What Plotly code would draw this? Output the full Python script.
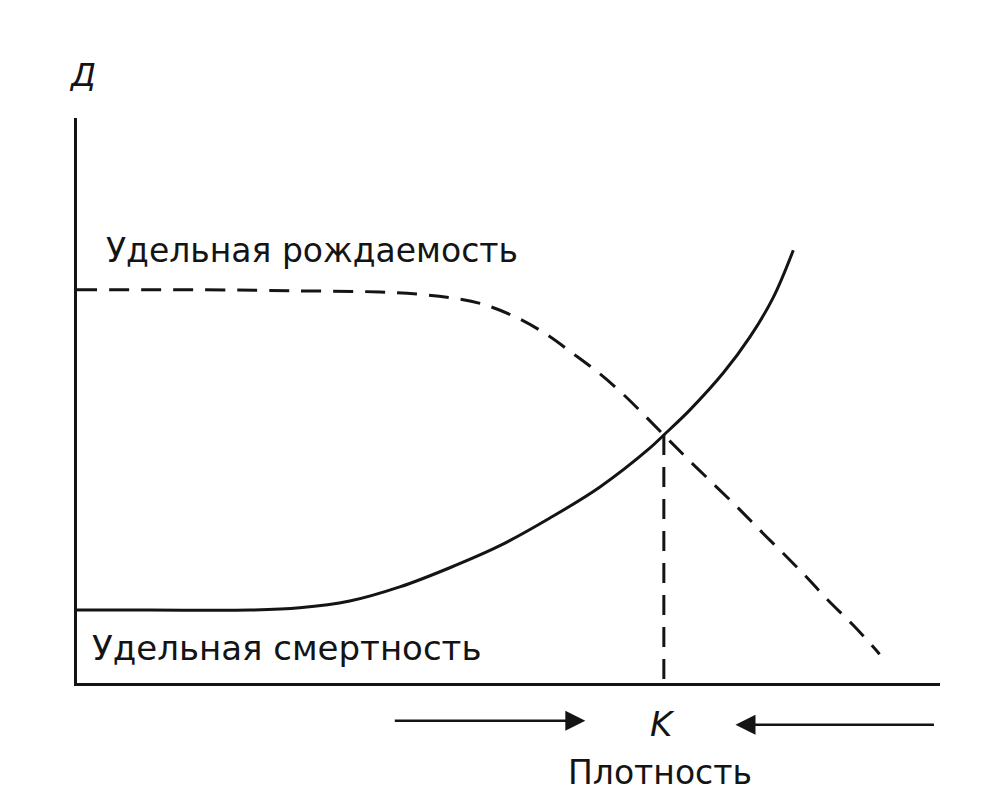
import plotly.graph_objects as go

# Density axis (arbitrary units 0-10) and rate axis (arbitrary units 0-10)
birth_density = [0.0, 1.43, 2.58, 3.51, 3.97, 4.32, 4.67, 5.08, 5.43, 5.74, 6.06, 6.35, 6.80,
                 7.10, 7.39, 7.66, 7.91, 8.18, 8.45, 8.70, 8.99, 9.22, 9.30]
birth_rate = [6.96, 6.96, 6.94, 6.92, 6.88, 6.82, 6.72, 6.48, 6.18, 5.84, 5.47, 5.08, 4.39,
              3.93, 3.50, 3.10, 2.71, 2.30, 1.88, 1.47, 1.03, 0.65, 0.51]

death_density = [0.0, 0.85, 2.00, 2.58, 3.16, 3.74, 4.32, 4.90, 5.48, 6.06, 6.64, 6.80,
                 7.10, 7.49, 7.80, 8.07, 8.30]
death_rate = [1.29, 1.29, 1.29, 1.33, 1.45, 1.70, 2.04, 2.43, 2.92, 3.47, 4.16, 4.39,
              4.83, 5.49, 6.13, 6.83, 7.66]

K = 6.80
K_rate = 4.39

y_label = "Д"
x_label = "Плотность"
birth_label = "Удельная рождаемость"
death_label = "Удельная смертность"
k_label = "K"

INK = "#141414"
FONT = "DejaVu Sans"

fig = go.Figure()

fig.add_trace(go.Scatter(
    x=birth_density, y=birth_rate, mode="lines",
    line=dict(color=INK, width=3, dash="20px,12px", shape="spline", smoothing=1.0),
    hoverinfo="skip", showlegend=False))

fig.add_trace(go.Scatter(
    x=death_density, y=death_rate, mode="lines",
    line=dict(color=INK, width=3, shape="spline", smoothing=1.0),
    hoverinfo="skip", showlegend=False))

fig.add_trace(go.Scatter(
    x=[K, K], y=[K_rate, 0], mode="lines",
    line=dict(color=INK, width=3, dash="20px,12px"),
    hoverinfo="skip", showlegend=False))

def label(x, y, text, size, xref="x", yref="y"):
    return dict(x=x, y=y, xref=xref, yref=yref, text=text, showarrow=False,
                xanchor="center", yanchor="middle",
                font=dict(family=FONT, size=size, color=INK))

annotations = [
    label(2.72, 7.66, birth_label, 33),
    label(2.43, 0.62, death_label, 34),
    label(0.06, 1.076, "<i>" + y_label + "</i>", 32, yref="paper"),
    label(K - 0.02, -0.0726, "<i>" + k_label + "</i>", 34, yref="paper"),
    label(K - 0.04, -0.159, x_label, 33, yref="paper"),
    # arrows toward K
    dict(x=5.89, y=-0.067, xref="x", yref="paper", ax=-192, ay=0, axref="pixel", ayref="pixel",
         text="", showarrow=True, arrowhead=2, arrowsize=1.6, arrowwidth=2.5, arrowcolor=INK),
    dict(x=7.63, y=-0.074, xref="x", yref="paper", ax=200, ay=0, axref="pixel", ayref="pixel",
         text="", showarrow=True, arrowhead=2, arrowsize=1.6, arrowwidth=2.5, arrowcolor=INK),
]

fig.update_layout(
    width=988, height=808,
    margin=dict(l=69, r=56, t=110, b=133),
    paper_bgcolor="white", plot_bgcolor="white",
    annotations=annotations,
    xaxis=dict(range=[0, 10], showline=True, linecolor=INK, linewidth=3,
               showgrid=False, zeroline=False, showticklabels=False, ticks=""),
    yaxis=dict(range=[0, 10], showline=True, linecolor=INK, linewidth=3,
               showgrid=False, zeroline=False, showticklabels=False, ticks=""),
)

fig.write_html("out.html")
